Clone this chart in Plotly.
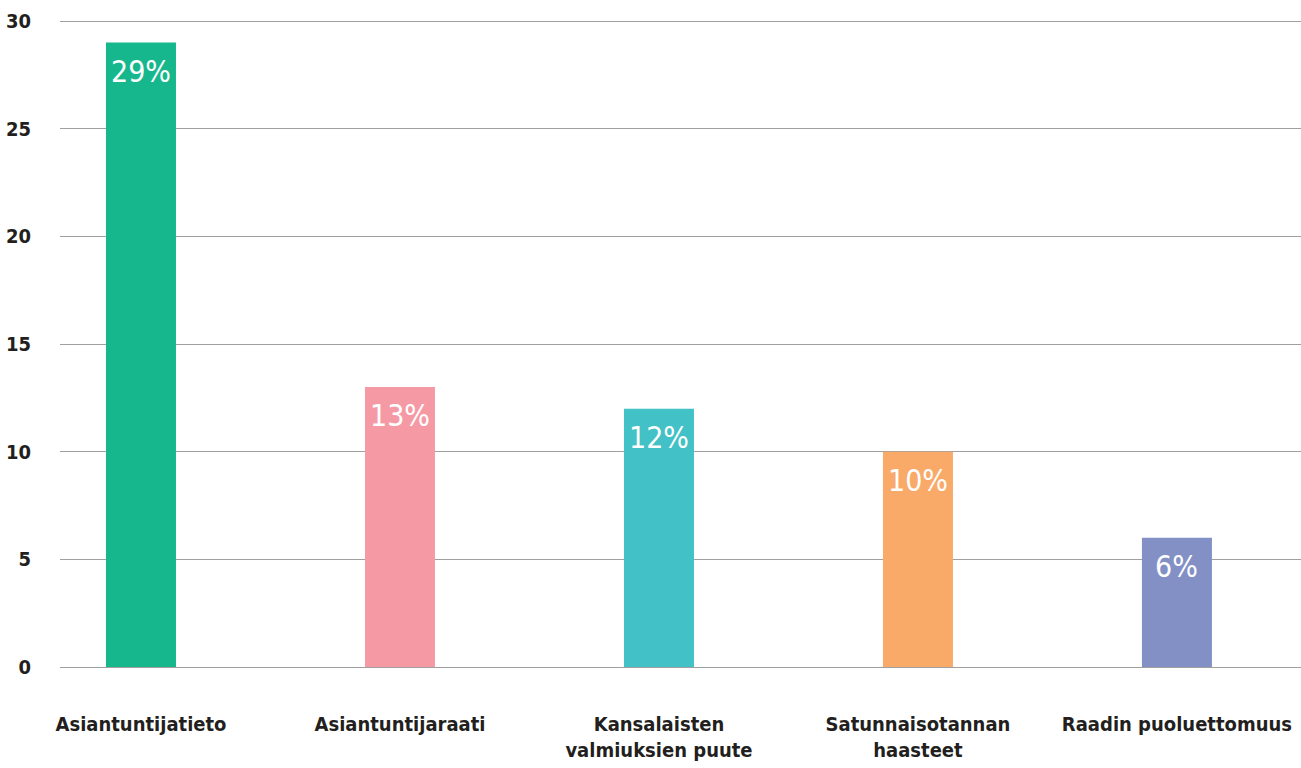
import plotly.graph_objects as go

categories = ["Asiantuntijatieto", "Asiantuntijaraati", "Kansalaisten<br>valmiuksien puute",
              "Satunnaisotannan<br>haasteet", "Raadin puoluettomuus"]
values = [29, 13, 12, 10, 6]
labels = ["29%", "13%", "12%", "10%", "6%"]
colors = ["#17b78d", "#f59aa5", "#42c1c6", "#f9a968", "#8390c6"]
y_ticks = [0, 5, 10, 15, 20, 25, 30]

FONT = "DejaVu Sans Condensed, Liberation Sans Narrow, Roboto, sans-serif"

fig = go.Figure()
fig.add_trace(go.Bar(x=list(range(len(categories))), y=values, marker_color=colors,
                     marker_line_width=0, width=70/259, hoverinfo="skip"))

for i, (v, t) in enumerate(zip(values, labels)):
    fig.add_annotation(x=i, y=v, text=t, showarrow=False, yanchor="top", yshift=-9,
                       font=dict(family=FONT, size=30, color="white"))

fig.update_layout(
    width=1301, height=768,
    margin=dict(l=60, r=0, t=20, b=101),
    plot_bgcolor="white", paper_bgcolor="white",
    showlegend=False,
    xaxis=dict(range=[-0.3127, 4.479], tickmode="array", tickvals=list(range(len(categories))),
               ticktext=["<b>%s</b>" % c for c in categories], showgrid=False, zeroline=False,
               showline=False, ticks="", ticklabelstandoff=43,
               tickfont=dict(family=FONT, size=20, color="#231f20")),
    yaxis=dict(range=[0, 30.05], tickvals=y_ticks, ticktext=["<b>%d</b>" % t for t in y_ticks],
               showgrid=True, gridcolor="#a0a0a0", gridwidth=1, zeroline=True,
               zerolinecolor="#a0a0a0", zerolinewidth=1,
               showline=False, ticks="", ticklabelstandoff=28,
               tickfont=dict(family=FONT, size=20, color="#231f20")),
)
fig.write_html("out.html", config={"displayModeBar": False},
               post_script="document.body.style.margin='0';document.body.style.overflow='hidden';")
